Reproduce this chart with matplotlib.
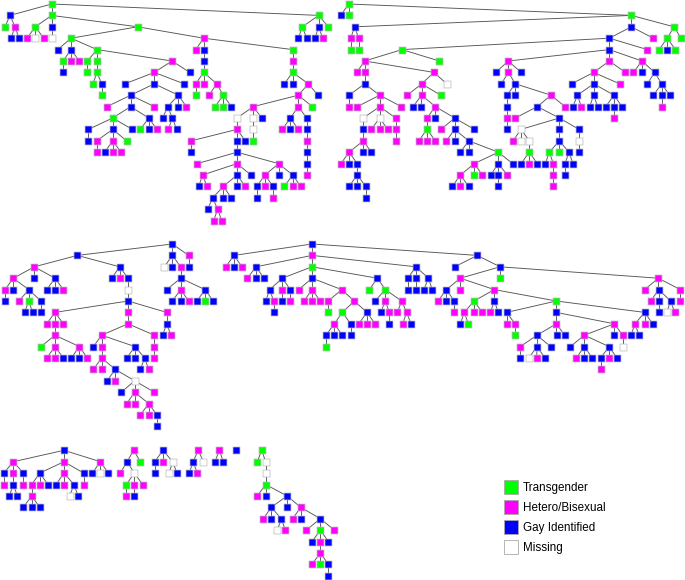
import re
import matplotlib
matplotlib.use("Agg")
import matplotlib.pyplot as plt
from matplotlib.lines import Line2D

# each node: group letter + x position, children in brackets, depth gives the row
tree_a = """T155(G30(T15 H45(G33 G57))
T155(T106(H81 M106 H131) G155(M155)
T413(T213(G173 G213(T189(G189) H213 H238)
T291(T262(T262) T291(T291(T279 G305(T305)))
H516(H463(G375 G463(G392(H321 G392(T338(G265(G265) G338(H290(H290) H338(G314 H338 H363) T380) G397) G446(T421 G446 H471)) H463)
G535(G503(G488 G517(H505 G530)) G535 H559)) G552) G569)))
H611(H587 G611(G611(T611(H587(T587) H611 H650(H627 T670(T645 T670 G694)))))
T878(H878(T878(G853 G878 H925(H895(H760(M711(H711(H574(G574) G711(G711(H592 H711(H608(G596 H621) G711(H670(G638(G623 H653(H641 H665)) G670 G694) G711 H736) G753)
H836(H795(G770(G770) H795 G819(H819)) G836 G878(T853 H878 H902)))) G736)) M760(M760(T760)) G785)
H895(G871(H847 G871 H895) G920(G920(H920(G920(G920(H920)))))) T937) G954)))))))
T956(T907(G895 G920) G956(G945 H968) T985))"""

tree_b = """T41(G17 T41
T889(G59(H47(T47) H71(T71))
G889(G823(T201(H89(H65 H89(G89(G42(H42) H134(H67 H134(M85(G85(H85(H42(H18 G42 G67(G67(G42 G67 G92(G92)))) G85 G109))) M134(H109 H134 H158) H182(H182(H182))) H199)))
H297(H260(H217 H260(G234 G259 H301(H276(T276(H251 H276 H301)) G301 G359(H318 G359(H334 G359 G401(G376 G401 T490(H418(H376(G352 H376 G401) T418 H442) G490(G467 G490(G490) H517) G533))) G418))) T317) M335)) T313)
H937
G823(H520(G482 H520(G499 G541(G516(G516(H516(G516))) G541 H648(G607(H541 G673(M558(H534 M558 M583(T583(G558 H583 G607))) G673(G673(T643(G631 H655(H655(H655))) T673 G702(G690(G690) G714))) G732(M732(G732)))) H690))) G558)
H823(H776(G710 G776(G727(G714 H739) G776(G764 G788) G837(G812 G837(H837) G861)) H854) H871)
H921(H895 G921 G959(G937 G980(G955 G980(H980) G1004))))) H955)
T1017(T997(T972 G997 T1021) T1038)))"""

tree_c = """G517(G232(H103(H40(H15(G15) G40 G86(H57 T86(G74 G98) G123(G123))) G103 G165(G140 G165 H190))
G359(G335 H359 G384(M384(G384(H165(H140 H165(H165(T123 H165(H140 H165 G190) H238(G214 G238 H262))) H190)
H384(H384(H305(G280 H305(H305(H280 H305 G346(G321 H346 M404(G364 H404(H380 H404 H446(H421 H446 G471(G471))) H463)))) G405(G380 G405 G434(G421 H446))) H463(H463(H463))))
H500(G500(G488 H513)))))))
G517(M493 G517 H542(G542(G500 H542(G517 G542 H566) G615(G591 T615 G640)))) H566(G566))"""

tree_d = """G291(G57(H32 G57 H81)
H291(G123(H97 G123 G147)
T291(G202(G164(G152 H176(G176)) H202(G202) G226(H226))
G291(H251 H291(H267 H291 H316) H380(H340(T340) H418(T382(H358(G333(T333) G358 G382) G407(G407)) G456(H431 H456 H480))))
G487(T463 T511(G480 H511(G497 H523(G523)) H560(H547 H575(H563 G588)))))
G603(G578(G578) G603(G603) G640(G627 G652)))
G787(G719 G855(H736(G694(H669 G694 G718(H718)) H736
H838(T777(H748(G736 T760) H777 H802) G838(H826 G850)
T1024(G875(H875 H900(T900)) G1024(H1024(G966(H916(G916) G966(M941 H965 G990) G1007) G1025 G1049)
H1198(H1108(G1066 G1108(H1084 G1108 G1132) G1182(G1157(H1157) H1182 G1206)) G1198 H1223(M1223)))
G1289(H1260(G1248 G1272) H1289 G1313)))) T855
H1330(H1289 G1331(H1307 G1331(G1331) G1367(M1355 H1379)) H1396(H1396)))))"""

tree_e = """G192(H40(G11(H11) H40(G40(G28 G52)) G70(H70))
H192(G119(H95(H95(G70 G95 G119)) H119 G144) H192(G168 H192 G222(M209 G234)) G251(H251))
H301(G277 M301 G325))"""
tree_f = "H401(G381(H361 M403(T379(H379) H403(G403) H428)) T421)"
tree_g = "G489(G464(G464) H489 M518(M507 G531))"
tree_h = "H595(G579(G568 H592) M610)"
tree_i = "H658(G645 G670)"
tree_j = "G707"
tree_k = """T785(T772 M797(M797(T797(H772 G797 G861(G814(H790 G814 G844(M832 H856)) G861
H902(H878 G902 G961(H919 T961(G936 H961(H961(H936 T961 G985(G985))) G985) H1003)))))))"""

# tree text, left offset, y of the root
forest = [
    (tree_a, 0, 4), (tree_b, 335, 4), (tree_c, 0, 244), (tree_d, 215, 244),
    (tree_e, 0, 450.3), (tree_f, 0, 450.3), (tree_g, 0, 450.3), (tree_h, 0, 450.3),
    (tree_i, 0, 450.3), (tree_j, 0, 450.3), (tree_k, 0, 450.3),
]
row_step = 11.4

group_names = ["Transgender", "Hetero/Bisexual", "Gay Identified", "Missing"]
group_keys = ["T", "H", "G", "M"]
group_colors = ["#00ff00", "#ff00ff", "#0000ff", "#ffffff"]


def parse(text, x0, y0):
    nodes, edges, stack = [], [], []
    last = None
    for tok in re.findall(r"[THGM]\d+|\(|\)", text):
        if tok == "(":
            stack.append(last)
        elif tok == ")":
            stack.pop()
        else:
            x = x0 + int(tok[1:]) / 3
            y = y0 + len(stack) * row_step
            last = (tok[0], x, y)
            nodes.append(last)
            if stack:
                edges.append((stack[-1], last))
    return nodes, edges


fig = plt.figure(figsize=(6.85, 5.8), dpi=100)
ax = fig.add_axes([0, 0, 1, 1])
ax.set_xlim(0, 685)
ax.set_ylim(580, 0)
ax.axis("off")

all_nodes = []
for text, x0, y0 in forest:
    nodes, edges = parse(text, x0, y0)
    all_nodes += nodes
    for a, b in edges:
        ax.plot([a[1], b[1]], [a[2], b[2]], color="#555555", lw=0.65, zorder=1)

for key, col in zip(group_keys, group_colors):
    xs = [n[1] for n in all_nodes if n[0] == key]
    ys = [n[2] for n in all_nodes if n[0] == key]
    ax.scatter(xs, ys, marker="s", s=25, color=col, edgecolors="#b8b8b8", linewidths=0.5, zorder=2, snap=False)

handles = [Line2D([], [], ls="", marker="s", ms=10.5, mfc=c, mec="#aaaaaa", mew=0.6) for c in group_colors]
ax.legend(handles, group_names, loc="upper left", bbox_to_anchor=(495, 477.5), bbox_transform=ax.transData,
          frameon=False, prop={"family": "Liberation Sans", "size": 8.4}, labelspacing=0.68,
          handletextpad=0.0, borderpad=0.4, borderaxespad=0)

fig.savefig("out.png", dpi=100)
